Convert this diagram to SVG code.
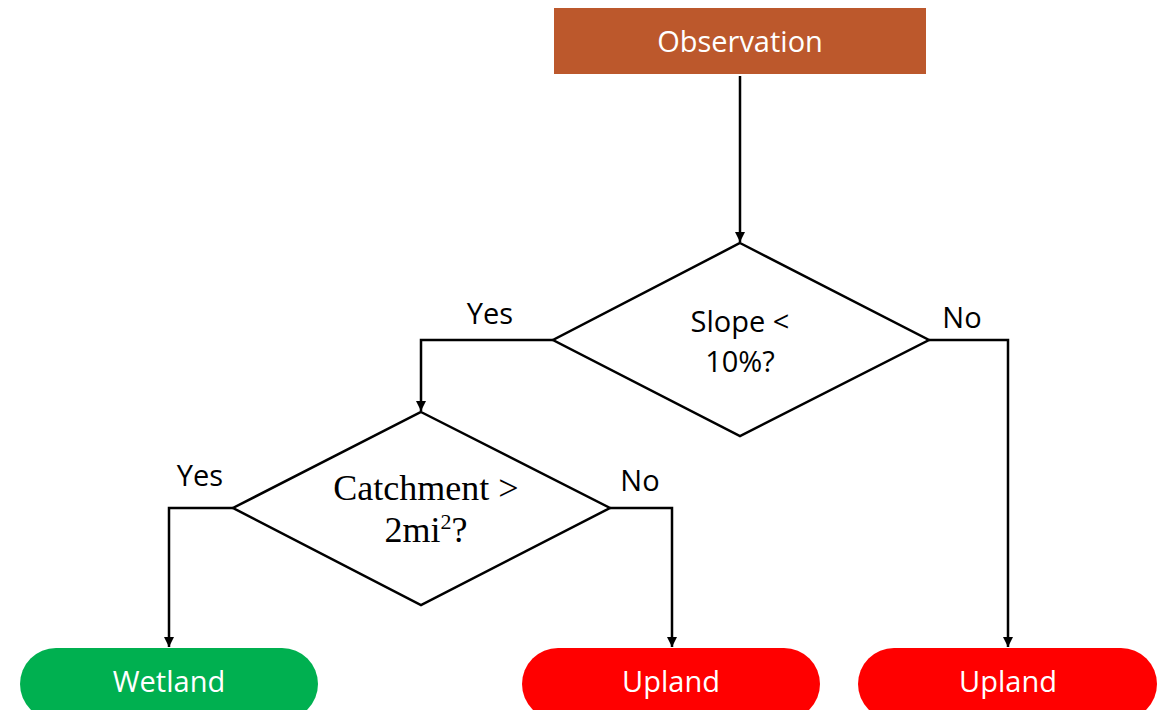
<svg xmlns="http://www.w3.org/2000/svg" width="1167" height="710" viewBox="0 0 1167 710">
<defs>
<style>
.lbl{font-family:"Open Sans","Liberation Sans",sans-serif;font-size:29px;fill:#000}
.wt{font-family:"Open Sans","Liberation Sans",sans-serif;font-size:29px;fill:#fff;text-anchor:middle}
.dia{fill:#fff;stroke:#000;stroke-width:2.5}
.con{fill:none;stroke:#000;stroke-width:2.5}
.ser{font-family:"Liberation Serif",serif;font-size:36px;fill:#000;text-anchor:middle}
</style>
<marker id="ah" viewBox="0 0 10 10" refX="10" refY="5" markerWidth="4" markerHeight="4" orient="auto" markerUnits="strokeWidth">
<path d="M0,0 L10,5 L0,10 z" fill="#000"/>
</marker>
</defs>
<rect width="1167" height="710" fill="#fff"/>
<g id="connectors">
<path class="con" d="M740,76 V242" marker-end="url(#ah)"/>
<path class="con" d="M553,340 H421 V411" marker-end="url(#ah)"/>
<path class="con" d="M929,340 H1008 V647" marker-end="url(#ah)"/>
<path class="con" d="M233,508 H169 V647" marker-end="url(#ah)"/>
<path class="con" d="M610,508 H672 V647" marker-end="url(#ah)"/>
<text class="lbl" x="490" y="324" text-anchor="middle">Yes</text>
<text class="lbl" x="962" y="328" text-anchor="middle">No</text>
<text class="lbl" x="200" y="486" text-anchor="middle">Yes</text>
<text class="lbl" x="640" y="491" text-anchor="middle">No</text>
</g>
<g id="observation">
<rect x="554" y="8" width="372" height="66" fill="#BC582C"/>
<text class="wt" x="740" y="52">Observation</text>
</g>
<g id="slope">
<polygon class="dia" points="740,243 929,340 740,436 553,340"/>
<text class="lbl" x="740" y="332" text-anchor="middle">Slope &lt;</text>
<text class="lbl" x="740" y="372" text-anchor="middle">10%?</text>
</g>
<g id="catchment">
<polygon class="dia" points="421,412 610,508 421,605 233,508"/>
<text class="ser" x="426" y="500">Catchment &gt;</text>
<text class="ser" x="426" y="542">2mi<tspan font-size="22" dy="-13">2</tspan><tspan dy="13">?</tspan></text>
</g>
<g id="wetland">
<rect x="20" y="648" width="298" height="72" rx="36" fill="#00B050"/>
<text class="wt" x="169" y="692">Wetland</text>
</g>
<g id="upland1">
<rect x="522" y="648" width="298" height="72" rx="36" fill="#FF0000"/>
<text class="wt" x="671" y="692">Upland</text>
</g>
<g id="upland2">
<rect x="858" y="648" width="299" height="72" rx="36" fill="#FF0000"/>
<text class="wt" x="1008" y="692">Upland</text>
</g>
</svg>
